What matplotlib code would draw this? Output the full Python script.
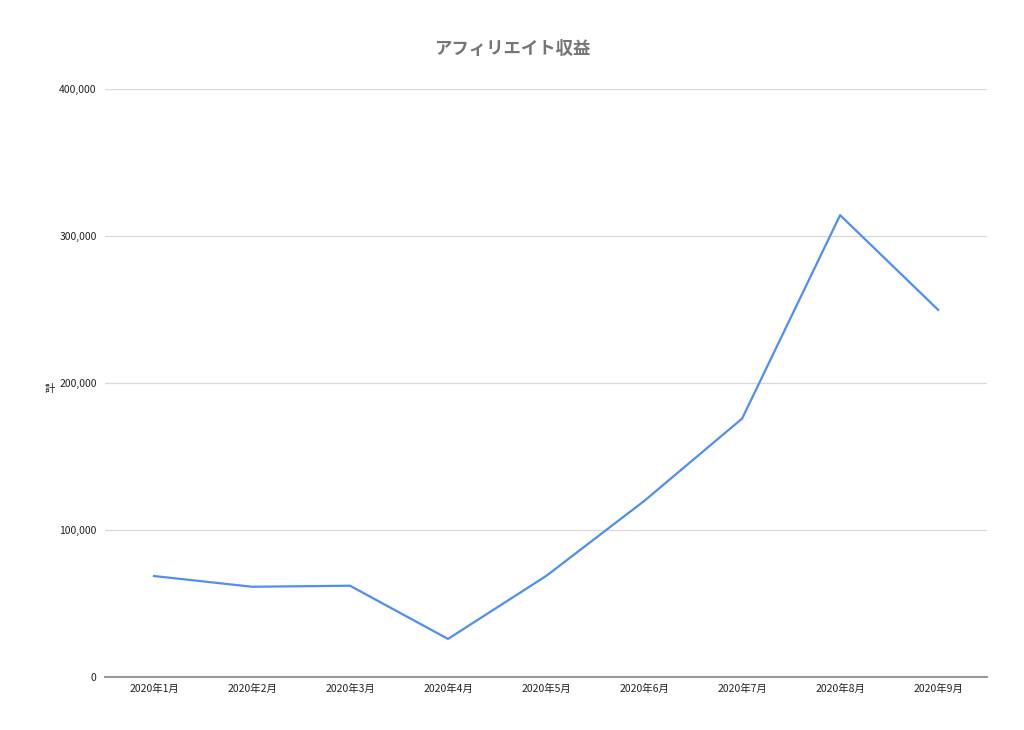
import matplotlib.pyplot as plt
from matplotlib.ticker import FuncFormatter

plt.rcParams['font.family'] = ['Noto Sans CJK JP', 'DejaVu Sans']

# data
months = ['2020年1月', '2020年2月', '2020年3月', '2020年4月', '2020年5月',
          '2020年6月', '2020年7月', '2020年8月', '2020年9月']
totals = [68700, 61400, 62100, 25900, 68700, 119700, 175800, 314200, 249800]
y_ticks = [0, 100000, 200000, 300000, 400000]

fig = plt.figure(figsize=(10.24, 7.30), dpi=100)
ax = fig.add_axes([0.1025, 0.0726, 0.8615, 0.8054])

x = list(range(len(months)))
ax.plot(x, totals, color='#4f8ef5', linewidth=1.6)

ax.set_xlim(-0.5, len(months) - 0.5)
ax.set_ylim(0, 400000)
ax.set_xticks(x)
ax.set_xticklabels(months)
ax.set_yticks(y_ticks)
ax.yaxis.set_major_formatter(FuncFormatter(lambda v, p: '{:,}'.format(int(v))))

ax.grid(axis='y', color='#d9d9d9', linewidth=0.9)
ax.set_axisbelow(True)
for side in ['top', 'right', 'left']:
    ax.spines[side].set_visible(False)
ax.spines['bottom'].set_color('#999999')
ax.spines['bottom'].set_linewidth(1.5)
ax.tick_params(axis='both', length=0, labelsize=7.5, colors='#222222')
ax.tick_params(axis='y', pad=6)
ax.tick_params(axis='x', pad=5)

# y axis label sits well to the left of the tick labels, upright
fig.text(50 / 1024, 1 - 389 / 730, '計', fontsize=7.5, color='#222222',
         ha='center', va='center')
fig.suptitle('アフィリエイト収益', x=0.5, y=0.945, fontsize=12.5,
             fontweight='bold', color='#757575')

fig.savefig('out.png', dpi=100)
